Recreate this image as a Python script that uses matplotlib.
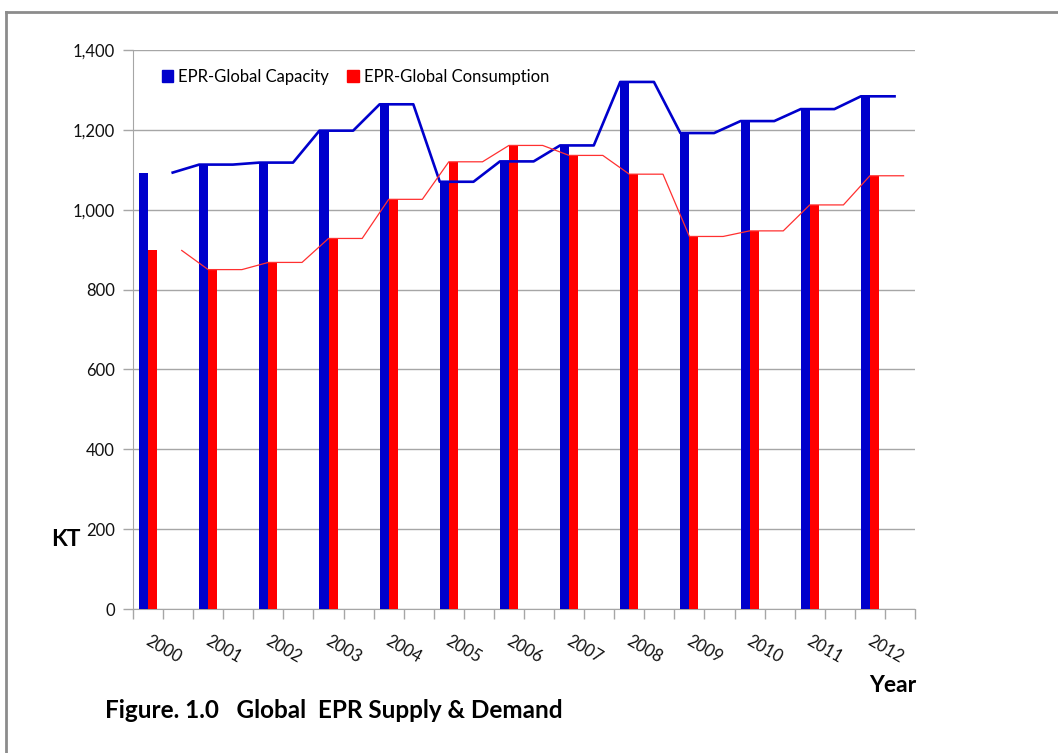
import matplotlib
matplotlib.use("Agg")
from matplotlib import pyplot as plt
from matplotlib.lines import Line2D
from matplotlib.patches import Patch
import numpy as np

plt.rcParams['font.family'] = ['Lato', 'DejaVu Sans']

# Data (KT per year)
years = ['2000', '2001', '2002', '2003', '2004', '2005', '2006',
         '2007', '2008', '2009', '2010', '2011', '2012']
capacity = [1093, 1113, 1118, 1198, 1264, 1070, 1121,
            1161, 1320, 1192, 1222, 1252, 1284]
consumption = [898, 850, 868, 928, 1026, 1120, 1161,
               1136, 1089, 933, 947, 1012, 1085]

BLUE = '#0000CC'
RED = '#FF0000'
GRID = '#a6a6a6'

fig = plt.figure(figsize=(10.58, 7.53), dpi=100)
ax = fig.add_axes([133 / 1058, 1 - 609 / 753, (915 - 133) / 1058, (609 - 50) / 753])

x = np.arange(len(years))
bw = 0.15
ax.bar(x - bw / 2, capacity, width=bw, color=BLUE, zorder=3)
ax.bar(x + bw / 2, consumption, width=bw, color=RED, zorder=3)

# Lines: each year holds its value over a short step, first step of 2000 missing
step = 0.56
bx, by, rx, ry = [], [], [], []
for i in range(len(years)):
    pts = [0, step] if i > 0 else [step]
    for p in pts:
        bx.append(x[i] - bw + p)
        by.append(capacity[i])
        rx.append(x[i] + p)
        ry.append(consumption[i])
ax.plot(bx, by, color=BLUE, lw=1.9, zorder=4)
ax.plot(rx, ry, color='#ff3030', lw=0.9, zorder=4)

ax.set_xlim(-0.25, 12.75)
ax.set_ylim(0, 1400)
ax.set_yticks(range(0, 1401, 200))
ax.set_yticklabels([f'{v:,}' for v in range(0, 1401, 200)], fontsize=12, color='#111111')
ax.yaxis.grid(True, color=GRID, lw=1, zorder=0)
ax.set_xticks(np.arange(-0.25, 12.76, 0.5))
ax.set_xticklabels([])
ax.tick_params(axis='both', length=7, color=GRID, width=1)
ax.tick_params(axis='y', pad=6)
for s in ['top', 'right']:
    ax.spines[s].set_visible(False)
for s in ['left', 'bottom']:
    ax.spines[s].set_color(GRID)

for i, y in enumerate(years):
    ax.text(x[i] + 0.25, -40 / 559, y, transform=ax.get_xaxis_transform(),
            rotation=-30, ha='center', va='center', fontsize=12, color='#111111')

handles = [Patch(color=BLUE), Patch(color=RED)]
ax.legend(handles, ['EPR-Global Capacity', 'EPR-Global Consumption'],
          loc='upper left', bbox_to_anchor=(0.028, 0.978), ncol=2, frameon=False,
          handlelength=0.7, handleheight=0.7, handletextpad=0.3,
          columnspacing=1.1, fontsize=12, borderaxespad=0)

fig.text(66 / 1058, 1 - 540 / 753, 'KT', fontsize=16.5, fontweight='bold',
         ha='center', va='center')
fig.text(916 / 1058, 1 - 686 / 753, 'Year', fontsize=16.5, fontweight='bold',
         ha='right', va='center')
fig.text(105 / 1058, 1 - 710 / 753, 'Figure. 1.0   Global  EPR Supply & Demand',
         fontsize=17.5, fontweight='bold', ha='left', va='center')

# Outer frame (top and left edges visible)
fig.add_artist(Line2D([6 / 1058, 1], [1 - 12 / 753, 1 - 12 / 753],
                      transform=fig.transFigure, color='#8c8c8c', lw=2))
fig.add_artist(Line2D([6 / 1058, 6 / 1058], [0, 1 - 12 / 753],
                      transform=fig.transFigure, color='#8c8c8c', lw=2))

fig.savefig('out.png', dpi=100)
